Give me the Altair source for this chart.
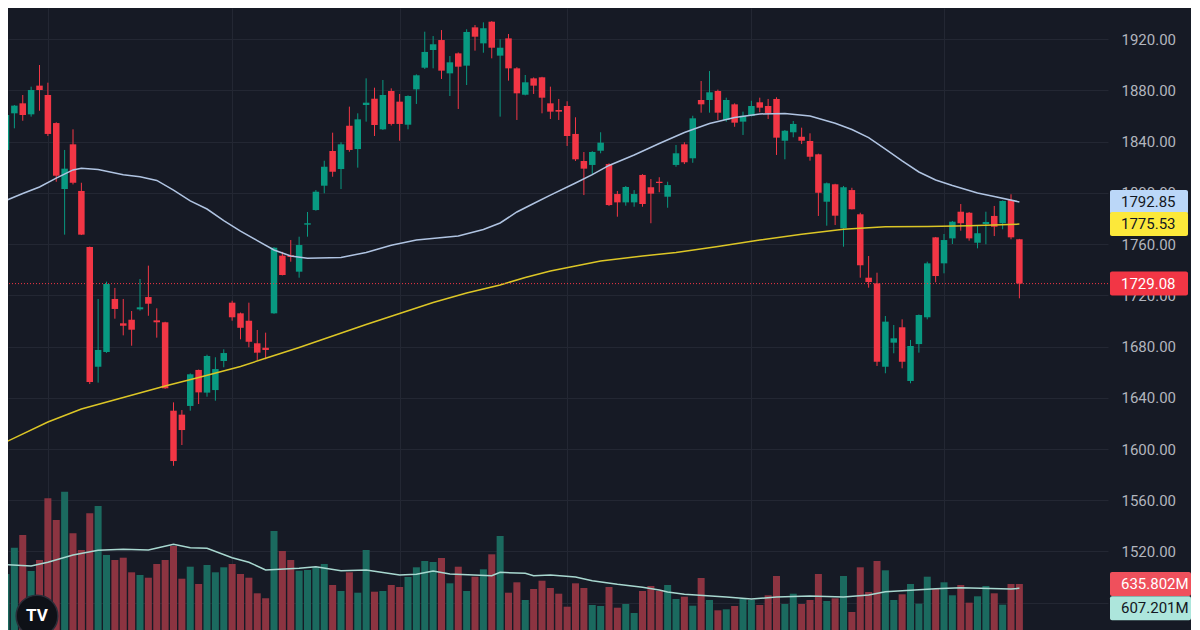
import altair as alt
import pandas as pd

# ---------------- colours / style ----------------
BG = "#161A25"
GRID = "#232733"
UP = "#089981"
DOWN = "#F23645"
VUP = "#1B6A5F"
VDOWN = "#8C3441"
MA_BLUE = "#B0C4E2"
MA_YELLOW = "#DCC626"
VOL_MA = "#A8D8D0"
AXIS_TXT = "#B2B5BE"
FONT = "Roboto"

# ---------------- data ----------------
idx = list(range(-1, 122))

opens = [
    1817.8, 1833.4, 1862.0, 1869.8, 1861.2, 1883.6, 1876.3, 1854.4, 1802.9, 1837.8,
    1801.4, 1757.7, 1664.2, 1675.7, 1717.1, 1698.1, 1700.9, 1709.0, 1718.6, 1700.4,
    1698.9, 1629.9, 1626.8, 1633.6, 1661.7, 1644.0, 1646.0, 1668.7, 1714.2, 1705.9,
    1700.1, 1682.5, 1679.1, 1705.9, 1750.9, 1751.2, 1738.4, 1775.1, 1786.5, 1805.5,
    1832.6, 1818.5, 1852.3, 1834.1, 1868.5, 1873.4, 1849.5, 1879.4, 1871.1, 1853.1,
    1880.7, 1897.6, 1911.4, 1919.2, 1893.2, 1908.8, 1899.2, 1929.1, 1916.6, 1933.5,
    1907.0, 1920.5, 1897.1, 1876.5, 1889.3, 1890.1, 1869.8, 1864.6, 1867.7, 1845.9,
    1824.8, 1821.7, 1832.8, 1822.4, 1799.0, 1792.5, 1792.5, 1813.9, 1804.3, 1808.6,
    1796.9, 1821.7, 1837.8, 1826.9, 1872.4, 1872.4, 1879.4, 1856.8, 1869.0, 1855.5,
    1859.9, 1870.6, 1867.7, 1873.2, 1840.6, 1847.2, 1843.7, 1840.4, 1830.0, 1793.0,
    1806.6, 1772.3, 1802.1, 1783.2, 1733.7, 1729.3, 1664.2, 1683.0, 1695.0, 1653.1,
    1681.9, 1702.8, 1765.2, 1744.9, 1764.4, 1785.2, 1784.4, 1761.0, 1775.6, 1781.9,
    1776.2, 1794.3, 1763.7,
]
highs = [
    1824.2, 1863.3, 1868.5, 1876.3, 1882.8, 1899.7, 1885.9, 1855.0, 1833.4, 1849.5,
    1807.8, 1758.0, 1717.1, 1730.6, 1725.7, 1717.1, 1707.7, 1732.7, 1743.1, 1709.8,
    1699.3, 1636.4, 1630.4, 1659.0, 1662.0, 1673.6, 1671.6, 1677.8, 1715.7, 1706.5,
    1714.2, 1692.9, 1690.8, 1757.5, 1753.9, 1763.1, 1765.7, 1785.0, 1802.1, 1825.0,
    1846.9, 1839.4, 1867.2, 1862.0, 1889.3, 1882.0, 1888.0, 1881.5, 1877.1, 1876.0,
    1892.4, 1925.7, 1922.3, 1927.0, 1906.7, 1909.5, 1927.6, 1930.9, 1933.0, 1934.0,
    1919.8, 1923.9, 1898.0, 1891.9, 1890.0, 1890.5, 1882.8, 1873.2, 1871.4, 1858.9,
    1831.8, 1832.5, 1847.2, 1823.0, 1801.4, 1805.3, 1802.1, 1814.5, 1810.7, 1812.1,
    1808.6, 1837.3, 1839.4, 1860.1, 1887.2, 1895.0, 1880.5, 1874.2, 1869.8, 1863.3,
    1871.8, 1874.2, 1873.2, 1874.5, 1849.0, 1856.0, 1850.8, 1846.4, 1830.5, 1808.0,
    1807.0, 1805.3, 1803.9, 1784.4, 1750.6, 1737.6, 1703.8, 1696.8, 1701.2, 1685.1,
    1705.0, 1746.2, 1765.5, 1767.8, 1778.0, 1791.2, 1785.0, 1774.8, 1785.2, 1789.7,
    1794.0, 1798.8, 1764.0,
]
lows = [
    1817.8, 1833.0, 1850.3, 1856.2, 1859.4, 1864.0, 1844.3, 1808.6, 1767.3, 1806.5,
    1767.0, 1650.7, 1651.8, 1675.0, 1701.7, 1688.7, 1680.6, 1708.0, 1704.0, 1686.9,
    1647.0, 1586.9, 1603.1, 1629.9, 1635.1, 1640.8, 1637.7, 1663.8, 1700.1, 1685.6,
    1679.4, 1669.5, 1670.0, 1705.5, 1735.5, 1746.2, 1733.7, 1765.7, 1786.0, 1799.6,
    1812.5, 1802.9, 1832.0, 1819.6, 1855.5, 1844.3, 1849.0, 1852.5, 1840.6, 1849.5,
    1869.3, 1896.6, 1897.1, 1888.8, 1875.5, 1865.4, 1884.1, 1910.9, 1909.3, 1904.9,
    1859.4, 1887.5, 1856.8, 1876.0, 1877.1, 1862.0, 1857.6, 1856.8, 1836.5, 1824.8,
    1798.2, 1813.9, 1830.8, 1789.7, 1781.3, 1789.9, 1789.1, 1789.1, 1776.2, 1800.4,
    1788.3, 1820.3, 1822.4, 1823.4, 1862.5, 1862.5, 1856.8, 1855.5, 1851.5, 1845.1,
    1859.5, 1862.8, 1857.6, 1829.5, 1826.1, 1843.3, 1838.0, 1825.0, 1781.9, 1774.3,
    1774.8, 1757.9, 1787.0, 1733.7, 1725.9, 1664.8, 1659.1, 1674.7, 1663.0, 1651.3,
    1675.2, 1701.2, 1730.1, 1737.1, 1760.0, 1770.4, 1762.6, 1756.6, 1759.8, 1766.2,
    1771.5, 1763.7, 1717.6,
]
closes = [
    1824.2, 1860.7, 1868.0, 1860.7, 1880.2, 1880.2, 1845.9, 1813.3, 1818.8, 1807.8,
    1767.3, 1652.3, 1677.3, 1728.8, 1709.3, 1696.2, 1693.1, 1710.6, 1713.4, 1698.9,
    1647.4, 1590.6, 1614.8, 1658.3, 1644.2, 1672.6, 1662.4, 1674.9, 1702.8, 1694.6,
    1683.7, 1675.2, 1677.3, 1757.1, 1735.8, 1749.9, 1759.2, 1776.2, 1800.8, 1820.3,
    1816.4, 1837.8, 1833.4, 1857.3, 1870.3, 1852.9, 1876.3, 1853.7, 1853.7, 1875.5,
    1891.7, 1909.9, 1915.9, 1895.3, 1901.8, 1898.4, 1925.5, 1921.8, 1928.4, 1913.2,
    1913.2, 1897.1, 1877.6, 1886.2, 1883.6, 1874.2, 1863.3, 1863.3, 1844.3, 1826.1,
    1818.8, 1831.8, 1839.1, 1790.4, 1792.5, 1804.5, 1799.0, 1791.2, 1799.3, 1807.6,
    1806.0, 1830.8, 1823.8, 1858.1, 1869.0, 1878.4, 1862.5, 1872.4, 1854.7, 1860.1,
    1867.7, 1866.4, 1862.0, 1843.0, 1848.4, 1853.7, 1840.6, 1828.1, 1800.0, 1807.4,
    1782.1, 1804.3, 1787.1, 1743.4, 1730.3, 1668.1, 1699.4, 1686.4, 1668.1, 1680.4,
    1704.6, 1744.9, 1735.0, 1763.1, 1777.4, 1776.2, 1764.4, 1768.4, 1777.2, 1773.5,
    1793.6, 1765.2, 1729.08,
]
volumes = [  # millions
    584.8, 702.0, 876.2, 960.3, 721.9, 794.8, 1203.4, 1059.7, 1247.1, 971.6,
    861.0, 1104.1, 1152.4, 827.9, 794.8, 810.0, 713.3, 695.4, 677.5, 768.3,
    794.8, 887.5, 670.9, 750.4, 635.8, 761.6, 713.3, 746.4, 768.3, 702.0,
    677.5, 574.2, 541.1, 986.8, 854.4, 794.8, 723.9, 728.5, 746.4, 768.3,
    629.2, 589.4, 713.3, 578.2, 861.0, 584.8, 589.4, 629.2, 615.9, 682.2,
    746.4, 788.1, 781.5, 808.0, 640.4, 750.4, 589.4, 684.2, 733.2, 832.5,
    953.7, 578.2, 647.1, 529.8, 602.7, 657.7, 609.3, 571.6, 485.5, 640.4,
    609.3, 496.7, 490.1, 615.9, 478.8, 503.3, 443.7, 589.4, 622.6, 589.4,
    629.2, 536.5, 551.7, 492.1, 675.5, 529.8, 461.6, 468.2, 490.1, 536.5,
    529.8, 496.7, 561.0, 688.8, 503.3, 571.6, 503.3, 529.8, 702.0, 523.2,
    541.1, 688.8, 450.4, 746.4, 582.8, 788.1, 726.5, 529.8, 567.6, 635.8,
    505.3, 684.2, 602.7, 647.1, 561.0, 629.2, 512.0, 554.3, 622.6, 574.2,
    498.7, 635.8, 635.802,
]

# moving averages (at candle positions)
ma_mid_idx = [-1, 0, 2, 4, 6, 8, 9, 11, 14, 16, 18, 20, 22, 24, 26, 28, 30, 32, 34, 36,
              40, 43, 46, 49, 54, 57, 59, 61, 63, 65, 68, 70, 72, 75, 78, 81, 84, 87, 90,
              93, 96, 99, 101, 103, 105, 107, 109, 111, 113, 116, 118, 121]
ma_mid_val = [1791.5, 1794.0, 1799.4, 1804.5, 1811.4, 1817.8, 1819.1, 1818.1, 1814.0, 1812.5,
              1809.6, 1802.1, 1793.6, 1787.3, 1778.3, 1770.1, 1762.7, 1755.3, 1750.6, 1748.8,
              1749.5, 1753.4, 1759.0, 1763.1, 1766.2, 1771.3, 1776.4, 1785.0, 1791.6, 1798.2,
              1807.6, 1814.2, 1821.3, 1829.5, 1838.4, 1847.0, 1854.0, 1858.7, 1861.5, 1861.9,
              1859.9, 1854.2, 1849.4, 1843.1, 1834.1, 1824.8, 1816.2, 1810.0, 1805.7, 1799.8,
              1797.1, 1792.85]

ma_long_idx = [-1, 0, 5, 9, 14, 19, 23, 28, 31, 35, 39, 43, 47, 51, 55, 59, 62, 65, 68, 71,
               76, 80, 85, 90, 95, 100, 105, 110, 115, 121]
ma_long_val = [1601.9, 1605.5, 1621.1, 1631.2, 1640.2, 1649.2, 1655.8, 1664.4, 1670.8, 1679.2,
               1688.2, 1697.2, 1705.8, 1714.3, 1721.8, 1728.0, 1733.9, 1738.9, 1742.8, 1746.7,
               1750.6, 1753.4, 1758.0, 1763.1, 1767.6, 1771.6, 1773.5, 1773.6, 1774.2, 1775.53]

vol_ma_idx = [-1, 3, 5, 8, 11, 14, 17, 20, 22, 24, 27, 29, 31, 35, 37, 40, 43, 47, 49, 51,
              53, 58, 59, 62, 63, 65, 68, 70, 73, 76, 78, 79, 81, 86, 89, 92, 96, 100, 103,
              105, 108, 111, 114, 120, 121]
vol_ma_val = [768, 755, 780, 828, 859, 866, 861, 899, 876, 872, 810, 780, 729, 740, 750, 724,
              729, 695, 700, 722, 702, 691, 713, 707, 691, 695, 682, 658, 634, 614, 596, 583,
              568, 550, 536, 550, 556, 550, 563, 585, 594, 605, 611, 603, 607.201]

price_ticks = [1480, 1520, 1560, 1600, 1640, 1680, 1720, 1760, 1800, 1840, 1880, 1920]
month_grid = [5, 27, 47, 67, 89, 112]

# ---------------- frames ----------------
df = pd.DataFrame({"i": idx, "o": opens, "h": highs, "l": lows, "c": closes, "v": volumes})
df["up"] = df["c"] >= df["o"]
df["ccol"] = df["up"].map({True: UP, False: DOWN})
df["vcol"] = df["up"].map({True: VUP, False: VDOWN})

mid_df = pd.DataFrame({"i": ma_mid_idx, "m": ma_mid_val})
long_df = pd.DataFrame({"i": ma_long_idx, "m": ma_long_val})
vma_df = pd.DataFrame({"i": vol_ma_idx, "m": vol_ma_val})

PH = 12 / 1.28125          # half label height in price units
VH = 12 * 6.623            # half label height in volume units
plab = pd.DataFrame({
    "v": [ma_mid_val[-1], ma_long_val[-1], closes[-1]],
    "bg": ["#BBD7F8", "#FCE83A", DOWN],
    "fg": ["#131722", "#131722", "#FFFFFF"],
})
plab["txt"] = plab["v"].map(lambda x: f"{x:.2f}")
plab["lo"] = plab["v"] - PH
plab["hi"] = plab["v"] + PH

vred = pd.DataFrame({"v": [volumes[-1]]})
vred["txt"] = vred["v"].map(lambda x: f"{x:.3f}M")
vred["lo"] = vred["v"] - VH
vred["hi"] = vred["v"] + VH
vteal = pd.DataFrame({"v": [vol_ma_val[-1]]})
vteal["txt"] = vteal["v"].map(lambda x: f"{x:.3f}M")
vteal["lo"] = vteal["v"] - VH
vteal["hi"] = vteal["v"] + VH

last_df = pd.DataFrame({"v": [closes[-1]]})
logo_df = pd.DataFrame({"t": ["TV"]})

# ---------------- scales / axes ----------------
xs = alt.Scale(domain=[0.2388, 131.58], nice=False, zero=False, padding=0)
ps = alt.Scale(domain=[1458.73, 1944.2], nice=False, zero=False, padding=0)
vs = alt.Scale(domain=[331.15, 4450.66], nice=False, zero=False, padding=0)

x_axis = alt.Axis(values=month_grid, labels=False, ticks=False, domain=False,
                  grid=True, gridColor=GRID, gridWidth=1, title=None)
y_axis = alt.Axis(orient="right", values=price_ticks, format=".2f", labelColor=AXIS_TXT,
                  labelFont=FONT, labelFontSize=15, labelPadding=13, ticks=False,
                  domain=False, grid=True, gridColor=GRID, gridWidth=1, title=None)

X = alt.X("i:Q", scale=xs, axis=x_axis)


def PY(f):
    return alt.Y(f, scale=ps, axis=y_axis)


def VY(f):
    return alt.Y(f, scale=vs, axis=None)


# ---------------- volume pane ----------------
vol_bars = alt.Chart(df).mark_bar(size=7, clip=True).encode(
    x=X, y=VY("v:Q"), color=alt.Color("vcol:N", scale=None))
vol_ma_line = alt.Chart(vma_df).mark_line(color=VOL_MA, strokeWidth=1.5, clip=True).encode(
    x=X, y=VY("m:Q"))
vred_rect = alt.Chart(vred).mark_rect(color="#EF505C", cornerRadius=2).encode(
    x=alt.value(1102), x2=alt.value(1183), y=VY("hi:Q"), y2="lo:Q")
vred_text = alt.Chart(vred).mark_text(align="left", baseline="middle", font=FONT,
                                      fontSize=15, color="#FFFFFF").encode(
    x=alt.value(1113), y=VY("v:Q"), text="txt:N")
vteal_rect = alt.Chart(vteal).mark_rect(color="#ADE6DC", cornerRadius=2,
                                        yOffset=20, y2Offset=20).encode(
    x=alt.value(1102), x2=alt.value(1183), y=VY("hi:Q"), y2="lo:Q")
vteal_text = alt.Chart(vteal).mark_text(align="left", baseline="middle", font=FONT,
                                        fontSize=15, color="#131722", dy=20).encode(
    x=alt.value(1113), y=VY("v:Q"), text="txt:N")

vol_group = alt.layer(vol_bars, vol_ma_line, vred_rect, vred_text, vteal_rect, vteal_text)

# ---------------- price pane ----------------
wicks = alt.Chart(df).mark_rule(strokeWidth=1, clip=True).encode(
    x=X, y=PY("l:Q"), y2="h:Q", color=alt.Color("ccol:N", scale=None))
bodies = alt.Chart(df).mark_bar(size=6.5, clip=True).encode(
    x=X, y=PY("o:Q"), y2="c:Q", color=alt.Color("ccol:N", scale=None))
mid_line = alt.Chart(mid_df).mark_line(color=MA_BLUE, strokeWidth=1.5, clip=True).encode(
    x=X, y=PY("m:Q"))
long_line = alt.Chart(long_df).mark_line(color=MA_YELLOW, strokeWidth=1.5, clip=True).encode(
    x=X, y=PY("m:Q"))
last_line = alt.Chart(last_df).mark_rule(color=DOWN, strokeDash=[1, 2], strokeWidth=1,
                                         clip=True).encode(y=PY("v:Q"))
plab_rect = alt.Chart(plab).mark_rect(cornerRadius=2).encode(
    x=alt.value(1102), x2=alt.value(1180), y=PY("hi:Q"), y2="lo:Q",
    color=alt.Color("bg:N", scale=None))
plab_text = alt.Chart(plab).mark_text(align="left", baseline="middle", font=FONT,
                                      fontSize=15).encode(
    x=alt.value(1113), y=PY("v:Q"), text="txt:N", color=alt.Color("fg:N", scale=None))

price_group = alt.layer(wicks, bodies, mid_line, long_line, last_line, plab_rect, plab_text)

# ---------------- logo ----------------
logo_circle = alt.Chart(logo_df).mark_circle(size=1735, color="#0E1117", opacity=1,
                                             stroke="#2A2E39", strokeWidth=1.5,
                                             clip=True).encode(
    x=alt.value(29), y=alt.value(608))
logo_text = alt.Chart(logo_df).mark_text(font=FONT, fontSize=17, fontWeight="bold",
                                         color="#FFFFFF", align="center",
                                         baseline="middle").encode(
    x=alt.value(29), y=alt.value(608), text="t:N")

chart = (
    alt.layer(vol_group, price_group, logo_circle, logo_text)
    .resolve_scale(y="independent")
    .properties(width=1100, height=622, padding=0)
    .configure(background=BG)
    .configure_view(strokeWidth=0)
)

chart.save("out.html", embed_options={"renderer": "svg", "actions": False})
